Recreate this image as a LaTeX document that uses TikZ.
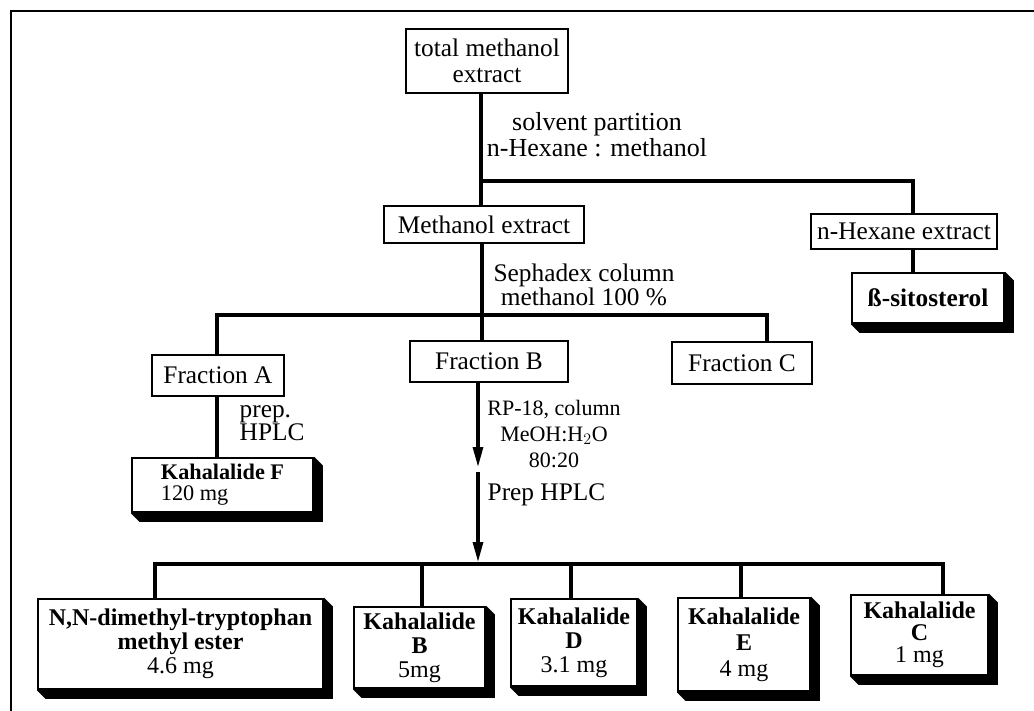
\documentclass[tikz,border=0pt]{standalone}
\usepackage{fontspec}
\setmainfont{Liberation Serif}
\usetikzlibrary{arrows.meta}
\tikzset{
  stepbox/.style={draw,line width=1.4pt,fill=white,inner sep=0pt,align=center,font=\fontsize{19}{19.5}\selectfont},
  resbox/.style={stepbox,line width=1.8pt,font=\fontsize{18}{18}\selectfont},
  ln/.style={line width=2.3pt},
  ar/.style={line width=2.3pt,-{Triangle[length=15pt,width=7.5pt]}},
  cond/.style={align=center,font=\fontsize{19.5}{19.5}\selectfont},
  small/.style={align=center,font=\fontsize{16.5}{19.5}\selectfont}
}
\newcommand{\dropshadow}[1]{%
  \fill (#1.north east) -- ++(6.5pt,-6.5pt) -- ([shift={(6.5pt,-6.5pt)}]#1.south east)
    -- ([shift={(6.5pt,-6.5pt)}]#1.south west) -- (#1.south west) -- (#1.south east) -- cycle;}

\begin{document}
\begin{tikzpicture}[x=0.75pt,y=-0.75pt]
\useasboundingbox (0,0) rectangle (1034,710);
\draw[line width=1.5pt] (11,11) rectangle (1060,740);
% extracts
\node[stepbox,minimum width=121.5pt,minimum height=48pt] (tot) at (487,61) {total methanol\\extract};
\node[stepbox,minimum width=150pt,minimum height=27.75pt] (meth) at (484,224.5) {Methanol extract};
\node[stepbox,minimum width=139.5pt,minimum height=26.25pt] (hex) at (904,231.5) {n-Hexane extract};
\node[resbox,minimum width=114pt,minimum height=37.5pt,font=\fontsize{19}{19}\selectfont\bfseries] (sito) at (928,298) {ß-sitosterol};
\node[cond] (part) at (597,135) {solvent partition\\n-Hexane : methanol};
\node[cond,font=\fontsize{19}{18}\selectfont] (seph) at (584,285) {Sephadex column\\methanol 100 \%};
% fractions
\node[stepbox,minimum width=99pt,minimum height=30.75pt] (fa) at (218,375.5) {Fraction A};
\node[stepbox,minimum width=118.5pt,minimum height=30.75pt] (fb) at (489,361.5) {Fraction B};
\node[stepbox,minimum width=105pt,minimum height=31.5pt] (fc) at (742,363) {Fraction C};
\node[cond,anchor=west,align=left,font=\fontsize{19}{17.25}\selectfont] (hplcA) at (235,423.5) {prep.\\HPLC};
\node[small] (rp) at (554,434) {RP-18, column\\MeOH:H$_2$O\\80:20};
\node[cond,anchor=west,font=\fontsize{19}{19}\selectfont] (hplcB) at (483,495) {Prep HPLC};
% compounds
\node[resbox,minimum width=135.75pt,minimum height=40.5pt,align=left,font=\fontsize{16.7}{15.75}\selectfont] (kf) at (222.5,485) {\textbf{Kahalalide F}\\120 mg};
\node[resbox,minimum width=213.75pt,minimum height=67.5pt] (nnd) at (180.5,644) {\textbf{N,N-dimethyl-tryptophan}\\\textbf{methyl ester}\\4.6 mg};
\node[resbox,minimum width=98.25pt,minimum height=60.75pt] (kb) at (419.5,647.5) {\textbf{Kahalalide}\\\textbf{B}\\5mg};
\node[resbox,minimum width=94.5pt,minimum height=65.25pt] (kd) at (574,642.5) {\textbf{Kahalalide}\\\textbf{D}\\3.1 mg};
\node[resbox,minimum width=99pt,minimum height=69.75pt,font=\fontsize{18}{19.5}\selectfont] (ke) at (744,644.5) {\textbf{Kahalalide}\\\textbf{E}\\4 mg};
\node[resbox,minimum width=102.75pt,minimum height=60pt,font=\fontsize{18}{16.5}\selectfont] (kc) at (919.5,635) {\textbf{Kahalalide}\\\textbf{C}\\1 mg};
\foreach \n in {sito,kf,nnd,kb,kd,ke,kc} {\dropshadow{\n}}
% connectors
\coordinate (jA) at (481,181);
\coordinate (hx) at (913,181);
\draw[ln] (tot.south -| jA) -- (meth.north -| jA);
\draw[ln] (jA) -- (hx) -- (hx |- hex.north);
\draw[ln] (hx |- hex.south) -- (hx |- sito.north);
\coordinate (jB) at (482,315);
\coordinate (bA) at (217,315);
\coordinate (bC) at (767,315);
\draw[ln] (meth.south -| jB) -- (fb.north -| jB);
\draw[ln] (fa.north -| bA) |- (bC) -- (bC |- fc.north);
\draw[ln] (fa.south -| bA) -- (kf.north -| bA);
\coordinate (tipA) at (478,467);
\coordinate (startB) at (478,472);
\coordinate (bM) at (478,562);
\draw[ar] (fb.south -| tipA) -- (tipA);
\draw[ar] (startB) -- (bM);
\coordinate (bL) at (155,564);
\coordinate (bR) at (943,564);
\draw[ln] (nnd.north -| bL) |- (bR) -- (bR |- kc.north);
\foreach \n/\x in {kb/422,kd/571,ke/741} {
  \coordinate (d\n) at (\x,564);
  \draw[ln] (d\n) -- (d\n |- \n.north);
}
\end{tikzpicture}
\end{document}
